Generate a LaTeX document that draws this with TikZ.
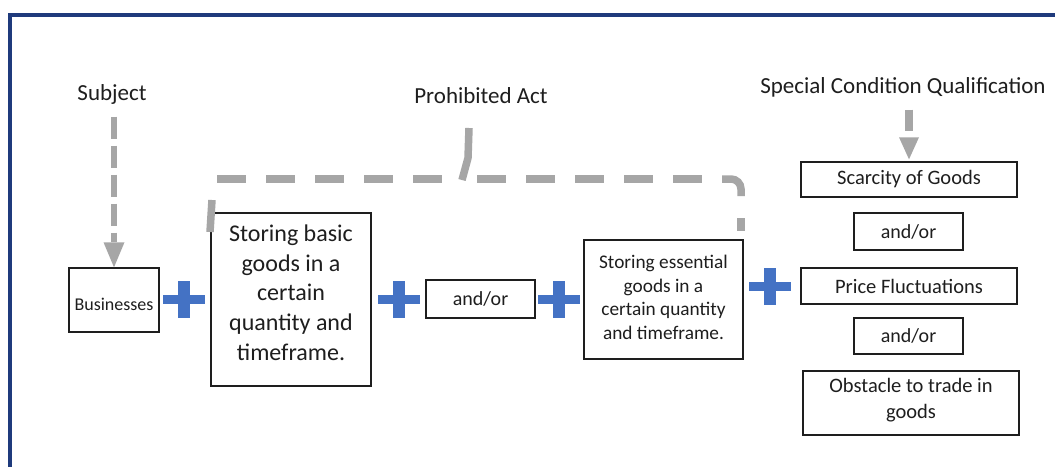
\documentclass[tikz,border=0pt]{standalone}
\usepackage{fontspec}
\setmainfont{Carlito}
\definecolor{navy}{HTML}{1F3A7C}
\definecolor{arrowgray}{HTML}{A6A6A6}
\definecolor{plusblue}{HTML}{4472C4}
\definecolor{inkc}{HTML}{1E1E1E}
\begin{document}
\begin{tikzpicture}[x=1pt,y=-1pt,
  box/.style={draw=inkc, line width=1.4pt, inner sep=0pt, align=center, text=inkc},
  txt/.style={inner sep=0pt, align=center, text=inkc},
  lbl/.style={inner sep=0pt, text=inkc, font=\fontsize{23}{27}\selectfont},
  shaft/.style={draw=arrowgray, line cap=butt},
  bracepart/.style={draw=arrowgray, line width=7.5pt, line cap=butt},
  pics/plussign/.style={code={
    \fill[plusblue] (-21,-4.5) rectangle (21,4.5);
    \fill[plusblue] (-6,-18.5) rectangle (6,18.5);}}]
\useasboundingbox (0,0) rectangle (1055,466);
\clip (0,0) rectangle (1055,466);
\fill[white] (0,0) rectangle (1055,466);
% frame
\draw[navy, line width=4pt] (10.3,490) -- (10.3,14.5) -- (1080,14.5);

% labels
\node[lbl] (subj) at (112,94.5) {Subject};
\node[lbl] (act) at (481,95.5) {Prohibited Act};
\node[lbl] (spec) at (903,87.5) {Special Condition Qualification};

% boxes
\node[box, minimum width=90pt, minimum height=64pt] (bus) at (114,300) {};
\node[txt, font=\fontsize{18}{21}\selectfont] (bust) at ([yshift=-4pt]bus.center) {Businesses};
\node[box, minimum width=160pt, minimum height=173pt] (basic) at (291,299.5) {};
\node[txt, font=\fontsize{24}{29.7}\selectfont] (basict) at ([yshift=7pt]basic.center) {Storing basic\\goods in a\\certain\\quantity and\\timeframe.};
\node[box, minimum width=109pt, minimum height=38pt, font=\fontsize{20}{24}\selectfont] (or1) at (480.5,299) {and/or};
\node[box, minimum width=159pt, minimum height=119pt] (ess) at (663.5,299.5) {};
\node[txt, font=\fontsize{19.3}{23.7}\selectfont] (esst) at ([yshift=2pt]ess.center) {Storing essential\\goods in a\\certain quantity\\and timeframe.};
\node[box, minimum width=216pt, minimum height=35pt, font=\fontsize{20.5}{24}\selectfont] (scar) at (909,179.5) {Scarcity of Goods};
\node[box, minimum width=109pt, minimum height=37pt, font=\fontsize{20}{24}\selectfont] (or2) at (908.5,231.5) {and/or};
\node[box, minimum width=216pt, minimum height=36pt, font=\fontsize{20.5}{24}\selectfont] (price) at (909,286) {Price Fluctuations};
\node[box, minimum width=109pt, minimum height=36pt, font=\fontsize{20}{24}\selectfont] (or3) at (908.5,336) {and/or};
\node[box, minimum width=216pt, minimum height=64pt] (obs) at (911,403) {};
\node[txt, font=\fontsize{20.5}{26}\selectfont] (obst) at ([yshift=3pt]obs.center) {Obstacle to trade in\\goods};

% plus signs
\pic at (184,299) {plussign};
\pic at (399,299) {plussign};
\pic at (558.5,299) {plussign};
\pic at (770,286.5) {plussign};

% Subject arrow
\draw[shaft, line width=6pt, dash pattern=on 22pt off 7pt]
  ([yshift=-12pt]subj.south -| bus.north) -- ([yshift=25pt]bus.north);
\fill[arrowgray] (bus.north) -- ++(-10.5,-25) -- ++(21,0) -- cycle;

% Special condition arrow
\draw[shaft, line width=8pt]
  ([yshift=-12pt]spec.south -| scar.north) -- ([yshift=30pt]scar.north);
\fill[arrowgray] ([yshift=2pt]scar.north) -- ++(-10,-22) -- ++(20,0) -- cycle;

% Prohibited act brace
\draw[bracepart] (210,232) -- (212,200);
\draw[bracepart, dash pattern=on 29pt off 20pt] (217,179) -- (442,179);
\draw[bracepart, line join=miter] (462,180) -- (468,158) -- (469,128);
\draw[bracepart, dash pattern=on 29pt off 20pt] (477,179) -- (722,179);
\draw[bracepart, rounded corners=10pt] (722,179) -- (741,179) -- (741,196);
\draw[bracepart] (741,218) -- (741,231);
\end{tikzpicture}
\end{document}
